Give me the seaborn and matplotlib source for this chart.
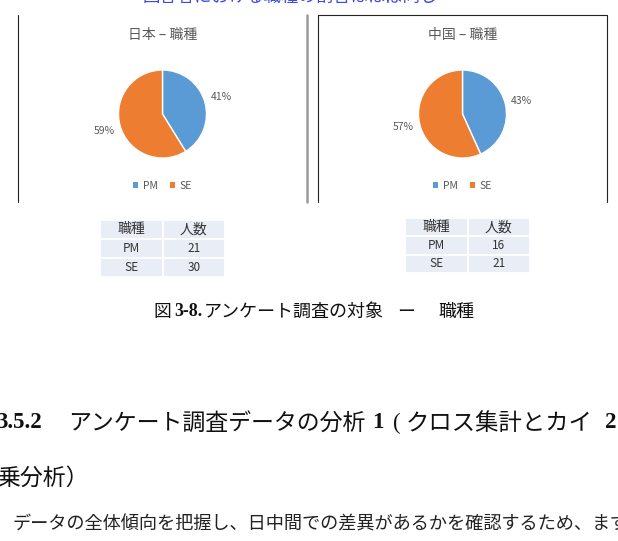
import matplotlib
matplotlib.use("Agg")
import matplotlib.pyplot as plt
import seaborn as sns
from matplotlib.lines import Line2D
from matplotlib.patches import Patch

# ---------------- data ----------------
roles = ["PM", "SE"]
japan_counts = [21, 30]
china_counts = [16, 21]
panel_titles = ["日本 – 職種", "中国 – 職種"]
table_header = ["職種", "人数"]
top_note = "回答者における職種の割合はほぼ同じ"
caption_parts = ["図", "3-8.", "アンケート調査の対象", "ー", "職種"]
heading_num = "3.5.2"
heading_parts = ["アンケート調査データの分析", "1", "(", "クロス集計とカイ", "2"]
heading_line2 = "乗分析）"
body_text = "データの全体傾向を把握し、日中間での差異があるかを確認するため、まず"

colors = ["#5B9BD5", "#ED7D31"]

# ---------------- figure ----------------
W, H = 618, 541
sns.set_theme(style="white")
plt.rcParams['font.family'] = ['Noto Sans CJK JP', 'DejaVu Sans']

fig = plt.figure(figsize=(W / 100, H / 100), dpi=100)
fig.patch.set_facecolor("white")


def fx(x):
    return x / W


def fy(y):
    return 1 - y / H


def add_box(x0, y0, x1, y1):
    return fig.add_axes([fx(x0), fy(y1), (x1 - x0) / W, (y1 - y0) / H])


serif_mix = ['Liberation Serif', 'Noto Sans CJK JP']

# top blue note (cut off at the top edge)
fig.text(fx(290), fy(-3), top_note, ha="center", va="center",
         fontsize=12.5, color="#3A4BE0")

# panel frames
fig.add_artist(Line2D([fx(18), fx(18)], [fy(15), fy(202)], color="#222222", lw=0.8))
fig.add_artist(Line2D([fx(307), fx(307)], [fy(15), fy(202)], color="#9a9a9a", lw=1.8))
fig.add_artist(Line2D([fx(318), fx(318), fx(607), fx(607)],
                      [fy(202), fy(15), fy(15), fy(202)], color="#222222", lw=0.8))

# pies
for cx, counts, title in zip([162.5, 462.5], [japan_counts, china_counts], panel_titles):
    ax = add_box(cx - 44, 114 - 44, cx + 44, 114 + 44)
    ax.pie(counts, colors=colors, startangle=90, counterclock=False,
           autopct=lambda p: f"{p:.0f}%", pctdistance=1.38,
           wedgeprops=dict(edgecolor="white", linewidth=1.0),
           textprops=dict(color="#595959", fontsize=7.5))
    ax.set_xlim(-1, 1)
    ax.set_ylim(-1, 1)
    ax.set_aspect("equal")
    ax.axis("off")
    fig.text(fx(cx), fy(35), title, ha="center", va="center",
             fontsize=10, color="#595959")
    handles = [Patch(facecolor=c, edgecolor="none", label=r) for c, r in zip(colors, roles)]
    fig.legend(handles=handles, loc="center", bbox_to_anchor=(fx(cx), fy(186)),
               ncol=2, frameon=False, fontsize=7.5, handlelength=0.5,
               handleheight=0.5, handletextpad=0.4, columnspacing=1.2,
               labelcolor="#595959")

# tables
for (x0, y0, x1, y1), counts in zip([(100, 220, 225, 277), (405, 218, 530, 273)],
                                    [japan_counts, china_counts]):
    tax = add_box(x0, y0, x1, y1)
    tax.axis("off")
    tbl = tax.table(cellText=[[r, str(c)] for r, c in zip(roles, counts)],
                    colLabels=table_header, cellLoc="center", bbox=[0, 0, 1, 1])
    tbl.auto_set_font_size(False)
    tbl.set_fontsize(8.5)
    for (row, col), cell in tbl.get_celld().items():
        cell.set_facecolor("#E9EDF5")
        cell.set_edgecolor("white")
        cell.set_linewidth(1.3)
        cell.get_text().set_color("#333333")
        if row == 0:
            cell.get_text().set_fontsize(10)

# caption
cy = 312
fig.text(fx(153), fy(cy), caption_parts[0], ha="left", va="center", fontsize=12.8, color="#111111")
fig.text(fx(174), fy(cy), caption_parts[1], ha="left", va="center", fontsize=12.8,
         fontweight="bold", family=serif_mix, color="#111111")
fig.text(fx(204), fy(cy), caption_parts[2], ha="left", va="center", fontsize=13, color="#111111")
fig.text(fx(397), fy(cy), caption_parts[3], ha="left", va="center", fontsize=12.8, color="#111111")
fig.text(fx(438), fy(cy), caption_parts[4], ha="left", va="center", fontsize=13, color="#111111")

# section heading
hy = 423
fig.text(fx(-4), fy(hy), heading_num, ha="left", va="center", fontsize=16.5,
         fontweight="bold", family=serif_mix, color="#111111")
fig.text(fx(68), fy(hy), heading_parts[0], ha="left", va="center", fontsize=16.5, color="#111111")
fig.text(fx(372), fy(hy), heading_parts[1], ha="left", va="center", fontsize=16.5,
         fontweight="bold", family=serif_mix, color="#111111")
fig.text(fx(393), fy(hy), heading_parts[2], ha="left", va="center", fontsize=16.5,
         family=serif_mix, color="#111111")
fig.text(fx(406), fy(hy), heading_parts[3], ha="left", va="center", fontsize=16.8, color="#111111")
fig.text(fx(605), fy(hy), heading_parts[4], ha="left", va="center", fontsize=16.5,
         fontweight="bold", family=serif_mix, color="#111111")
fig.text(fx(-3), fy(478), heading_line2, ha="left", va="center", fontsize=16.5, color="#111111")

# body text
fig.text(fx(13), fy(525), body_text, ha="left", va="center", fontsize=13.1, color="#222222")

fig.savefig("out.png", dpi=100, facecolor="white")
